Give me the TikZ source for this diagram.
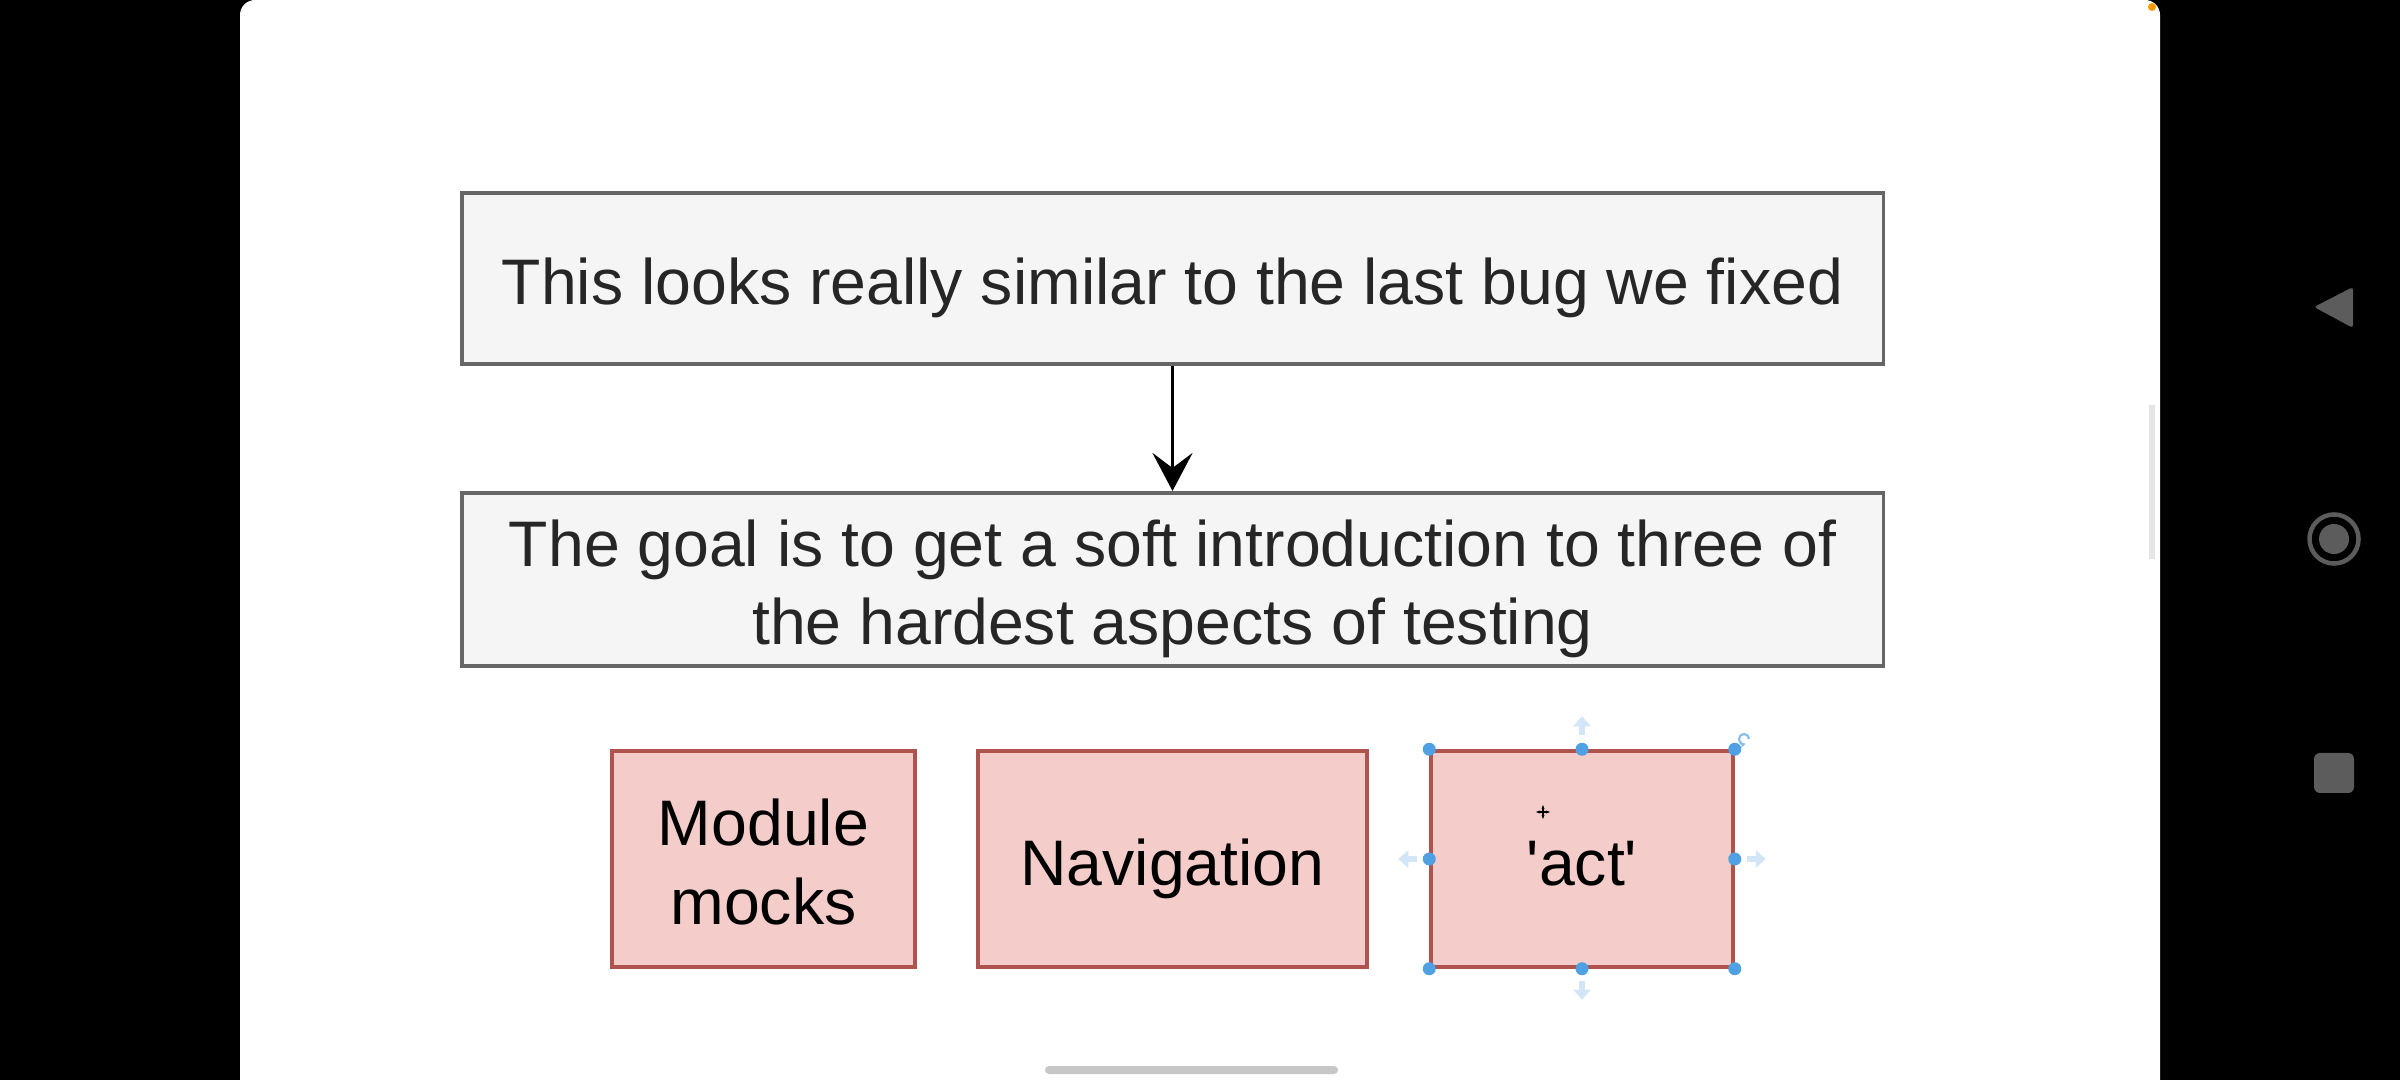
\documentclass[tikz,border=0pt]{standalone}
\usepackage{fontspec}
\setmainfont{Liberation Sans}
\usetikzlibrary{arrows.meta}

\definecolor{boxgray}{HTML}{F5F5F5}
\definecolor{linegray}{HTML}{666666}
\definecolor{boxred}{HTML}{F4CCC9}
\definecolor{linered}{HTML}{AE534E}
\definecolor{handle}{HTML}{4FA1E4}
\definecolor{handlelight}{HTML}{D2E6F7}
\definecolor{navgray}{HTML}{5C5C5C}

\tikzset{
  graybox/.style={draw=linegray, fill=boxgray, line width=1.1pt, text=black!85, minimum width=14.21cm, align=center},
  redbox/.style={draw=linered, fill=boxred, line width=0.95pt, text=black, minimum height=2.16cm, align=center},
  oneline/.style={text height=15pt, text depth=0pt},
  twoline/.style={text height=37pt, text depth=0pt},
  handlearrow/.style={handlelight, line width=0.06cm, -{Triangle[length=0.1cm,width=0.17cm]}}
}

\begin{document}
\begin{tikzpicture}[x=0.01cm, y=-0.01cm, every node/.style={font=\fontsize{18.3}{22.2}\selectfont}]
\useasboundingbox (0,0) rectangle (2400,1080);
\fill[black] (0,0) rectangle (2400,1080);
\fill[white, rounded corners=0.15cm] (240,0) rectangle (2160,1120);
\fill[orange!80!yellow] (2152,7) circle (0.04cm);
\fill[black!10] (2149,405) rectangle (2155,559);
\fill[black!22, rounded corners=0.04cm] (1045,1066) rectangle (1338,1074);

% phone buttons
\fill[navgray, rounded corners=0.03cm] (2314,307) -- (2353,287) -- (2353,328) -- cycle;
\draw[navgray, line width=0.045cm] (2334,539) circle (0.245cm);
\fill[navgray] (2334,539) circle (0.15cm);
\fill[navgray, rounded corners=0.06cm] (2314,753) rectangle (2354,793);

\node (bug) at (1172.5,278.5) [graybox, oneline, minimum height=1.71cm] {This looks really similar to the last bug we fixed};
\node (goal) at (1172.5,579.5) [graybox, twoline, minimum height=1.73cm] {The goal is to get a soft introduction to three of\\the hardest aspects of testing};
\draw[-{Stealth[length=0.38cm,width=0.4cm,inset=0.15cm]}, line width=0.95pt] (bug) -- (goal);

\node (mocks) at (763.5,859) [redbox, twoline, minimum width=3.03cm] {Module\\mocks};
\node (nav) at (1172.5,859) [redbox, oneline, minimum width=3.89cm] {Navigation};
\node (act) at (1582,859) [redbox, oneline, minimum width=3.02cm] {\textquotesingle act\textquotesingle};

% selection handles
\foreach \p in {north west, north, north east, east, south east, south, south west, west}
  \fill[handle] (act.\p) circle (0.065cm);
\draw[handlearrow] ([yshift=0.14cm]act.north) -- ++(0,-19);
\draw[handlearrow] ([yshift=-0.12cm]act.south) -- ++(0,19);
\draw[handlearrow] ([xshift=-0.12cm]act.west) -- ++(-19,0);
\draw[handlearrow] ([xshift=0.12cm]act.east) -- ++(19,0);
\draw[handle!70, line width=0.6pt, -{Stealth[length=0.06cm]}] (1749,739) arc (0:290:0.05cm);
\draw[black, line width=0.7pt, {Stealth[length=0.04cm]}-{Stealth[length=0.04cm]}] (1536,812) -- (1550,812);
\draw[black, line width=0.7pt, {Stealth[length=0.04cm]}-{Stealth[length=0.04cm]}] (1543,805) -- (1543,819);
\end{tikzpicture}
\end{document}
